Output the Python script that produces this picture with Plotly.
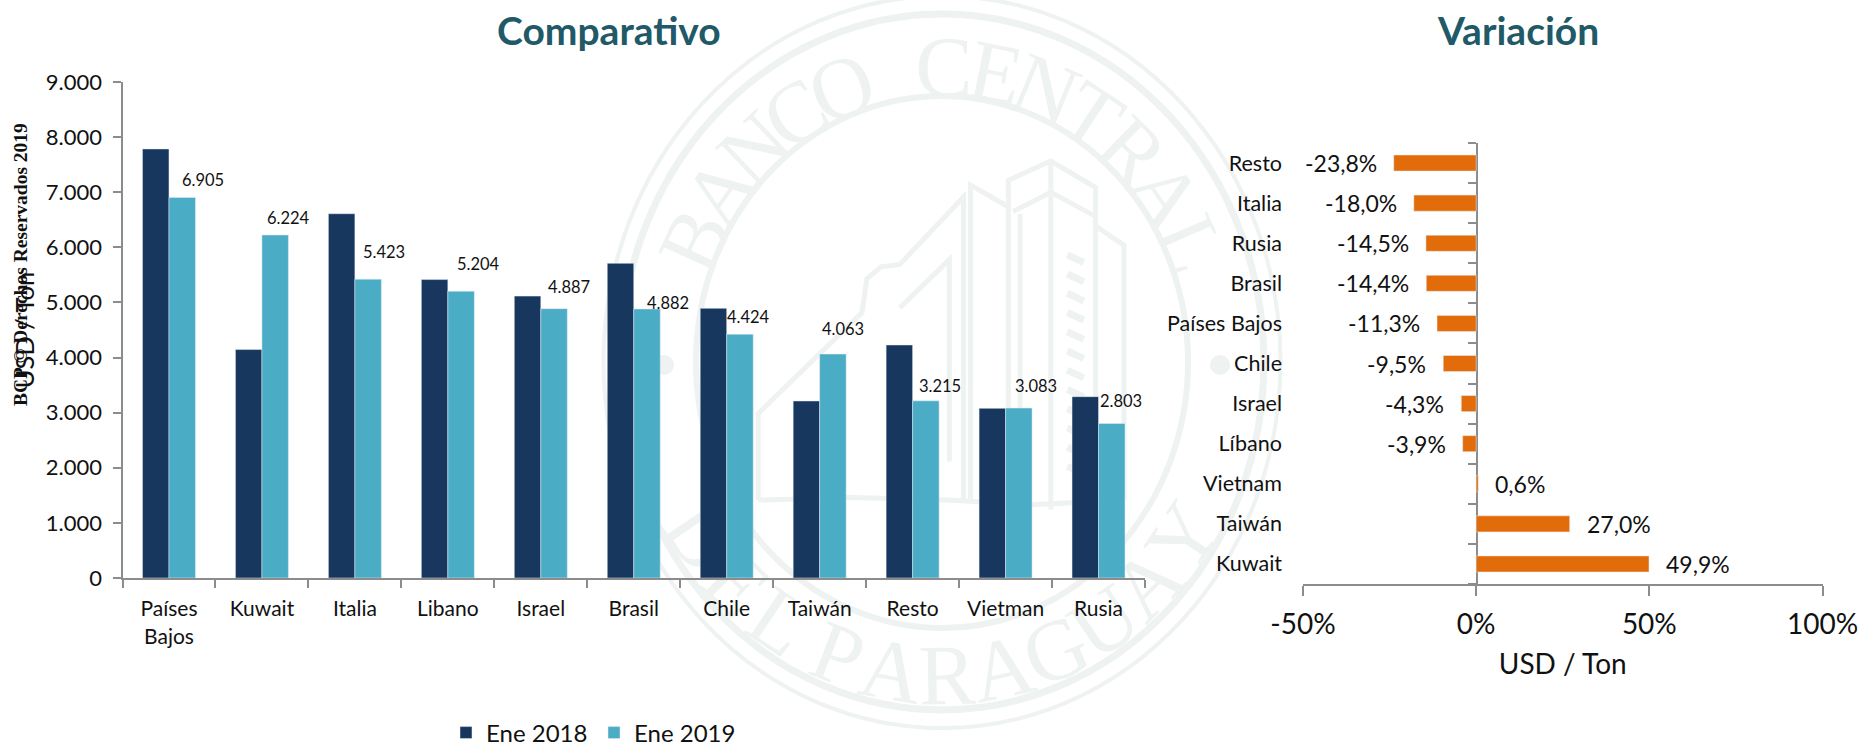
import math
import plotly.graph_objects as go

W, H = 1864, 751

# ---------- data ----------
paises = ["Países<br>Bajos", "Kuwait", "Italia", "Libano", "Israel", "Brasil", "Chile", "Taiwán", "Resto", "Vietman", "Rusia"]
ene_2018 = [7785, 4145, 6610, 5415, 5115, 5710, 4893, 3212, 4228, 3078, 3290]
ene_2019 = [6905, 6224, 5423, 5204, 4887, 4882, 4424, 4063, 3215, 3083, 2803]
y_ticks = [0, 1000, 2000, 3000, 4000, 5000, 6000, 7000, 8000, 9000]

var_paises = ["Kuwait", "Taiwán", "Vietnam", "Líbano", "Israel", "Chile", "Países Bajos", "Brasil", "Rusia", "Italia", "Resto"]
variacion = [49.9, 27.0, 0.6, -3.9, -4.3, -9.5, -11.3, -14.4, -14.5, -18.0, -23.8]
var_ticks = [-50, 0, 50, 100]
var_tick_text = ["-50%", "0%", "50%", "100%"]

# hand-placed data-label nudges of the left chart (px, as in the reference)
label_dx = [20.7, 13.7, 15.8, 17.8, 14.9, 21, 8, 9.7, 14, 17, 8.7]
label_dy = [17.5, 17.3, 27.3, 27.2, 22, 6.3, 17.2, 25.3, 14.8, 22, 22.8]

# ---------- style ----------
FONT = "Lato"
C_DARK, C_LIGHT, C_ORANGE = "#17375E", "#4BACC6", "#E36C0A"
C_TITLE = "#215968"
C_AXIS = "#8C8C8C"
C_WM = "#EEF2F1"
BAR_OFFSET = 13.3


def px(x):
    return x / W


def py(y):
    return 1 - y / H


# ---------- seal watermark (drawn below the traces) ----------
cx, cy = 942, 362
sx = 0.925
shapes = []


def ring(ry, width):
    shapes.append(dict(type="circle", xref="paper", yref="paper", layer="below",
                       x0=px(cx - ry * sx), x1=px(cx + ry * sx), y0=py(cy + ry), y1=py(cy - ry),
                       line=dict(color=C_WM, width=width)))


ring(366, 4)
ring(348, 7)
ring(266, 6)


def letter(ch, ang, bottom):
    a = math.radians(ang)
    r = 304
    x = cx + r * sx * math.sin(a)
    y = cy + (r * math.cos(a) if bottom else -r * math.cos(a))
    shapes.append(dict(type="rect", xref="paper", yref="paper", layer="below",
                       x0=px(x - 45), x1=px(x + 45), y0=py(y + 45), y1=py(y - 45),
                       line=dict(width=0), fillcolor="rgba(0,0,0,0)",
                       label=dict(text=ch, textangle=-ang if bottom else ang,
                                  textposition="middle center",
                                  font=dict(family="Liberation Serif", size=86, color=C_WM))))


top_txt = "BANCO CENTRAL"
for i, ch in enumerate(top_txt):
    if ch != " ":
        letter(ch, -65.6 + i * 11, False)
for i, ch in enumerate("DEL"):
    letter(ch, -56 + i * 11, True)
for i, ch in enumerate("PARAGUAY"):
    letter(ch, -21 + i * 11, True)

for dot_x in (664, 1220):
    shapes.append(dict(type="circle", xref="paper", yref="paper", layer="below",
                       x0=px(dot_x - 10), x1=px(dot_x + 10), y0=py(375), y1=py(355),
                       fillcolor=C_WM, line=dict(width=0)))

# building outline at (zoom x, zoom y)
building = [
    [(420, 1040), (420, 860), (640, 650), (650, 580), (680, 555), (720, 550), (855, 410), (855, 1040)],
    [(720, 640), (825, 540), (825, 960)],
    [(870, 1045), (870, 385), (950, 430)],
    [(950, 1050), (950, 375), (1040, 335), (1135, 390), (1135, 1060)],
    [(960, 440), (1040, 400), (1135, 450)],
    [(1040, 335), (1040, 1060)],
    [(975, 445), (975, 1055)],
    [(1135, 470), (1195, 510), (1195, 1040)],
    [(420, 1040), (620, 1035), (820, 1040), (1000, 1050), (1195, 1040)],
]
for seg in building:
    path = "M" + " L".join(f"{px(560 + a / 2.119):.5f},{py(b / 2.08):.5f}" for a, b in seg)
    shapes.append(dict(type="path", xref="paper", yref="paper", layer="below", path=path,
                       line=dict(color=C_WM, width=5)))
for k in range(12):
    yy = 530 + k * 40
    path = f"M{px(560 + 1075 / 2.119):.5f},{py(yy / 2.08):.5f} L{px(560 + 1110 / 2.119):.5f},{py((yy + 16) / 2.08):.5f}"
    shapes.append(dict(type="path", xref="paper", yref="paper", layer="below", path=path,
                       line=dict(color=C_WM, width=7)))

# ---------- traces ----------
fig = go.Figure()
fig.add_bar(name="Ene 2018", x=paises, y=ene_2018, marker_color=C_DARK, xaxis="x", yaxis="y")
fig.add_bar(name="Ene 2019", x=paises, y=ene_2019, marker_color=C_LIGHT, xaxis="x", yaxis="y")
fig.add_bar(x=variacion, y=var_paises, orientation="h", marker_color=C_ORANGE, width=0.4,
            xaxis="x2", yaxis="y3", showlegend=False)
# carries the country labels at the far left of the right chart
fig.add_bar(x=[0] * len(var_paises), y=var_paises, orientation="h", marker_opacity=0,
            xaxis="x2", yaxis="y2", showlegend=False, hoverinfo="skip")

# ---------- annotations ----------
ann = []
for p, v, dx, dy in zip(paises, ene_2019, label_dx, label_dy):
    ann.append(dict(x=p, y=v, xref="x", yref="y", text=f"{v:,}".replace(",", "."), showarrow=False,
                    xshift=BAR_OFFSET + dx, yshift=dy, xanchor="center", yanchor="middle",
                    font=dict(family=FONT, size=16.5, color="#111111")))
for p, v in zip(var_paises, variacion):
    neg = v < 0
    ann.append(dict(x=v, y=p, xref="x2", yref="y3", text=f"{v:.1f}%".replace(".", ","), showarrow=False,
                    xshift=-15 if neg else 15, xanchor="right" if neg else "left", yanchor="middle",
                    font=dict(family=FONT, size=23, color="#111111")))
ann += [
    dict(x=px(609), y=py(30), xref="paper", yref="paper", text="Comparativo", showarrow=False,
         xanchor="center", yanchor="middle", font=dict(family=FONT, size=39, color=C_TITLE, weight="bold")),
    dict(x=px(1518), y=py(30), xref="paper", yref="paper", text="Variación", showarrow=False,
         xanchor="center", yanchor="middle", font=dict(family=FONT, size=39, color=C_TITLE, weight="bold")),
    dict(x=px(20), y=py(265), xref="paper", yref="paper", text="<b>BCP © Derechos Reservados 2019</b>",
         xanchor="center", yanchor="middle",
         textangle=-90, showarrow=False, font=dict(family="Liberation Serif", size=19.5, color="#111111")),
]

axis_common = dict(showline=True, linecolor=C_AXIS, linewidth=2, tickcolor=C_AXIS, tickwidth=2,
                   ticks="outside", showgrid=False, zeroline=False, automargin=False)

fig.update_layout(
    width=W, height=H, autosize=False,
    margin=dict(l=0, r=0, t=0, b=0, autoexpand=False),
    paper_bgcolor="white", plot_bgcolor="rgba(0,0,0,0)",
    separators=",.",
    barmode="group", bargap=0.43, bargroupgap=0,
    font=dict(family=FONT, color="#111111"),
    shapes=shapes, annotations=ann,
    legend=dict(orientation="h", x=px(446), xanchor="left", y=py(733), yanchor="middle",
                entrywidth=103, entrywidthmode="pixels",
                font=dict(family=FONT, size=24, color="#111111"), bgcolor="rgba(0,0,0,0)"),
    xaxis=dict(domain=[px(122.5), px(1145)], anchor="y", tickson="boundaries", ticklen=8,
               tickfont=dict(size=21), ticklabelstandoff=11, tickangle=0, **axis_common),
    yaxis=dict(domain=[py(578), py(82)], anchor="x", range=[0, 9000], tickvals=y_ticks, tickformat=",d",
               ticklen=8, tickfont=dict(size=22), ticklabelstandoff=6,
               title=dict(text="USD / Ton", font=dict(size=25.5), standoff=4), **axis_common),
    xaxis2=dict(domain=[px(1303), px(1822.5)], anchor="y2", range=[-50, 100], tickvals=var_ticks,
                ticktext=var_tick_text, ticklen=10, tickfont=dict(size=28), ticklabelstandoff=4,
                title=dict(text="USD / Ton", font=dict(size=28), standoff=16), **axis_common),
    yaxis2=dict(domain=[py(584), py(143)], anchor="x2", range=[-0.5, 10.5], type="category",
                categoryorder="array", categoryarray=var_paises, showline=False, ticks="",
                showgrid=False, zeroline=False, tickfont=dict(size=21.5), ticklabelstandoff=20, automargin=False),
    yaxis3=dict(overlaying="y2", anchor="free", position=px(1476.5), side="left", range=[-0.5, 10.5], type="category",
                categoryorder="array", categoryarray=var_paises, tickson="boundaries", ticklen=8,
                showticklabels=False, layer="below traces", **axis_common),
)

# the browser's default 8px body margin would shift the whole figure
fig.write_html("out.html", post_script="document.body.style.margin='0';",
               config=dict(displayModeBar=False))
